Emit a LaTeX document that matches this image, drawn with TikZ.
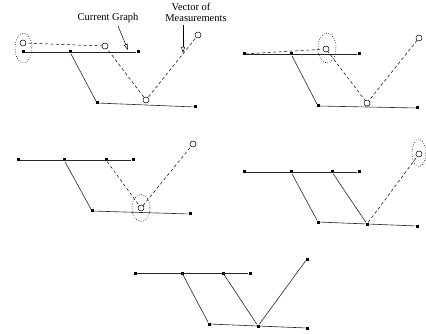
\documentclass[tikz,border=0pt]{standalone}
\usepackage{fontspec}
\setmainfont{Liberation Serif}
\usetikzlibrary{arrows.meta,shapes.geometric}
\begin{document}
\begin{tikzpicture}[x=1pt,y=-1pt,
  vtx/.style={rectangle,fill=black,inner sep=0pt,minimum size=3pt},
  meas/.style={circle,draw=black,fill=white,line width=0.5pt,inner sep=0pt,minimum size=6pt},
  edge/.style={line width=0.6pt,black!85},
  dline/.style={line width=0.5pt,dash pattern=on 3pt off 2.5pt},
  gate/.style={ellipse,draw,line width=0.5pt,dash pattern=on 0.8pt off 1.6pt,inner sep=0pt},
  lbl/.style={font=\fontsize{10.5}{12}\selectfont,inner sep=0pt},
  ptr/.style={line width=0.5pt,-{Triangle[open,length=6pt,width=4pt]}}]
\useasboundingbox (0,0) rectangle (426,334);
% ---------- panel 1 ----------
\node[vtx] (a1) at (23,52) {};
\node[vtx] (b1) at (70,52) {};
\node[vtx] (c1) at (138,52) {};
\node[vtx] (d1) at (97,103) {};
\node[vtx] (e1) at (195,107) {};
\draw[edge] (a1) -- (c1);
\draw[edge] (b1) -- (d1);
\draw[edge] (d1) -- (e1);
\node[gate,minimum width=17pt,minimum height=30pt] (el1) at (23.5,48) {};
\coordinate (m1a) at (23,43);
\coordinate (m1b) at (105,46);
\coordinate (m1c) at (146,100);
\coordinate (m1d) at (198,35);
\draw[dline] (m1a) -- (m1b) -- (m1c) -- (m1d);
\node[meas] (n1a) at (m1a) {};
\node[meas] (n1b) at (m1b) {};
\node[meas] (n1c) at (m1c) {};
\node[meas] (n1d) at (m1d) {};
\node[lbl] (cg) at (108,18) {Current Graph};
\coordinate (cgs) at (118,26);
\coordinate (cgt) at (128,50);
\draw[ptr] (cgs) -- (cgt);
\node[lbl] (vo) at (191,7) {Vector of};
\node[lbl] (vm) at (196,18) {Measurements};
\coordinate (vms) at (183,25);
\coordinate (vmt) at (183,53);
\draw[ptr] (vms) -- (vmt);
% ---------- panel 2 ----------
\node[vtx] (a2) at (244,54) {};
\node[vtx] (b2) at (291,54) {};
\node[vtx] (c2) at (359,54) {};
\node[vtx] (d2) at (318,106) {};
\node[vtx] (e2) at (417,108) {};
\draw[edge] (a2) -- (c2);
\draw[edge] (b2) -- (d2);
\draw[edge] (d2) -- (e2);
\node[gate,minimum width=18pt,minimum height=30pt] (el2) at (327,48) {};
\coordinate (m2b) at (326,49);
\coordinate (m2c) at (367,103);
\coordinate (m2d) at (419,38);
\draw[dline] (a2) -- (m2b) -- (m2c) -- (m2d);
\node[meas] (n2b) at (m2b) {};
\node[meas] (n2c) at (m2c) {};
\node[meas] (n2d) at (m2d) {};
% ---------- panel 3 ----------
\node[vtx] (a3) at (18,160) {};
\node[vtx] (b3) at (64,160) {};
\node[vtx] (f3) at (106,160) {};
\node[vtx] (c3) at (133,160) {};
\node[vtx] (d3) at (92,211) {};
\node[vtx] (e3) at (190,214) {};
\draw[edge] (a3) -- (c3);
\draw[edge] (b3) -- (d3);
\draw[edge] (d3) -- (e3);
\node[gate,minimum width=18pt,minimum height=27pt] (el3) at (141,208) {};
\coordinate (m3c) at (141,208);
\coordinate (m3d) at (193,144);
\draw[dline] (f3) -- (m3c) -- (m3d);
\node[meas] (n3c) at (m3c) {};
\node[meas] (n3d) at (m3d) {};
% ---------- panel 4 ----------
\node[vtx] (a4) at (244,172) {};
\node[vtx] (b4) at (291,172) {};
\node[vtx] (f4) at (332,172) {};
\node[vtx] (c4) at (359,172) {};
\node[vtx] (d4) at (318,222) {};
\node[vtx] (g4) at (367,224) {};
\node[vtx] (e4) at (417,226) {};
\draw[edge] (a4) -- (c4);
\draw[edge] (b4) -- (d4);
\draw[edge] (f4) -- (g4);
\draw[edge] (d4) -- (e4);
\node[gate,minimum width=14pt,minimum height=27pt] (el4) at (419,153) {};
\coordinate (m4d) at (419,154);
\draw[dline] (g4) -- (m4d);
\node[meas] (n4d) at (m4d) {};
% ---------- panel 5 ----------
\node[vtx] (a5) at (135,273) {};
\node[vtx] (b5) at (182,273) {};
\node[vtx] (f5) at (223,273) {};
\node[vtx] (c5) at (250,273) {};
\node[vtx] (d5) at (209,324) {};
\node[vtx] (g5) at (258,326) {};
\node[vtx] (e5) at (307,328) {};
\node[vtx] (h5) at (307,259) {};
\draw[edge] (a5) -- (c5);
\draw[edge] (b5) -- (d5);
\draw[edge] (f5) -- (g5);
\draw[edge] (d5) -- (e5);
\draw[edge] (g5) -- (h5);
\end{tikzpicture}
\end{document}
